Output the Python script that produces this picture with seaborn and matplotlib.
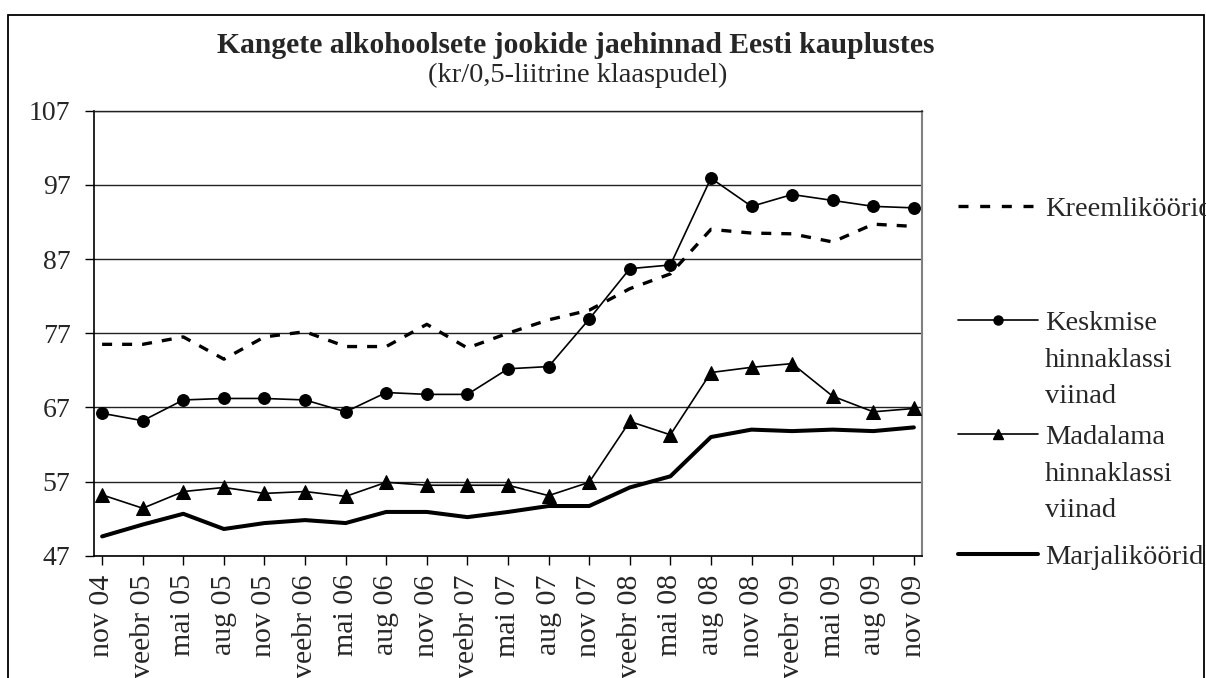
import matplotlib
matplotlib.use("Agg")
import matplotlib.pyplot as plt
from matplotlib.patches import Rectangle
from matplotlib.lines import Line2D
import seaborn as sns
import numpy as np

categories = ["nov 04", "veebr 05", "mai 05", "aug 05", "nov 05", "veebr 06", "mai 06",
              "aug 06", "nov 06", "veebr 07", "mai 07", "aug 07", "nov 07", "veebr 08",
              "mai 08", "aug 08", "nov 08", "veebr 09", "mai 09", "aug 09", "nov 09"]

kreem = [75.5, 75.5, 76.5, 73.5, 76.5, 77.2, 75.2, 75.2, 78.2, 75.0, 77.0,
         78.8, 80.1, 83.0, 85.0, 91.0, 90.5, 90.4, 89.3, 91.7, 91.4]
keskmise = [66.2, 65.2, 68.0, 68.2, 68.2, 68.0, 66.4, 69.0, 68.75, 68.75, 72.2,
            72.5, 78.9, 85.7, 86.2, 97.9, 94.1, 95.7, 94.9, 94.1, 93.9]
madalama = [55.2, 53.4, 55.65, 56.2, 55.4, 55.65, 55.0, 56.9, 56.5, 56.5, 56.5,
            55.1, 56.9, 65.1, 63.3, 71.7, 72.4, 72.9, 68.5, 66.4, 66.85]
marja = [49.6, 51.2, 52.65, 50.6, 51.4, 51.8, 51.4, 52.9, 52.9, 52.2, 52.9,
         53.7, 53.7, 56.2, 57.7, 63.0, 64.0, 63.8, 64.0, 63.8, 64.3]

yticks = [47, 57, 67, 77, 87, 97, 107]

title = "Kangete alkohoolsete jookide jaehinnad Eesti kauplustes"
subtitle = "(kr/0,5-liitrine klaaspudel)"
leg_kreem = ["Kreemliköörid"]
leg_kesk = ["Keskmise", "hinnaklassi", "viinad"]
leg_mad = ["Madalama", "hinnaklassi", "viinad"]
leg_marja = ["Marjaliköörid"]

sns.set_style("white")
plt.rcParams["font.family"] = ["Liberation Serif", "DejaVu Serif"]

W, H = 1206, 678
fig = plt.figure(figsize=(W / 100, H / 100), dpi=100)

def fx(px):
    return px / W

def fy(py):
    return 1 - py / H

ax_left, ax_right, ax_top, ax_bot = 94, 922, 110.7, 555.7
ax = fig.add_axes([fx(ax_left), fy(ax_bot), fx(ax_right - ax_left), (ax_bot - ax_top) / H])

x = np.arange(len(categories))

sns.lineplot(x=x, y=kreem, ax=ax, color="black", lw=2.4, linestyle=(0, (3, 3)),
             zorder=3)
sns.lineplot(x=x, y=keskmise, ax=ax, color="black", lw=1.2, marker="o",
             markersize=8.5, markeredgecolor="black", zorder=4)
sns.lineplot(x=x, y=madalama, ax=ax, color="black", lw=1.2, marker="^",
             markersize=9.5, markeredgecolor="black", zorder=4)
sns.lineplot(x=x, y=marja, ax=ax, color="black", lw=2.9, zorder=3)

ax.set_xlim(-0.2, len(categories) - 1 + 0.2)
ax.set_ylim(47, 107)
ax.set_yticks(yticks)
ax.set_yticklabels([str(v) for v in yticks], fontsize=20)
ax.set_xticks(x)
ax.set_xticklabels(categories, rotation=90, fontsize=21.5, va="top", ha="center")
ax.tick_params(axis="y", direction="out", length=6.5, width=1, color="black", pad=10.5, left=True)
ax.tick_params(axis="x", direction="out", length=6.5, width=1, color="black", pad=7, bottom=True)

ax.yaxis.grid(True, color="#222222", lw=1)
ax.xaxis.grid(False)
ax.set_axisbelow(True)
for side in ["left", "bottom"]:
    ax.spines[side].set_color("black")
    ax.spines[side].set_linewidth(1.2)
ax.spines["top"].set_color("#222222")
ax.spines["top"].set_linewidth(1)
ax.spines["right"].set_color("#808080")
ax.spines["right"].set_linewidth(1.5)
ax.set_xlabel("")
ax.set_ylabel("")

# outer chart-area border
fig.patches.append(Rectangle((fx(8), -0.1), fx(1204 - 8), fy(15.5) + 0.1,
                             transform=fig.transFigure, fill=False,
                             edgecolor="black", lw=1.3))

fig.text(fx(576), fy(53), title, fontsize=21.3, fontweight="bold",
         ha="center", va="baseline")
fig.text(fx(578), fy(82), subtitle, fontsize=20.5, ha="center", va="baseline")

# legends
fs = 20.5
def blank():
    return Line2D([], [], color="none")

h_kreem = Line2D([], [], color="black", lw=2.4, linestyle=(0, (3, 3.5)))
h_kesk = Line2D([], [], color="black", lw=1.2, marker="o", markersize=6.5)
h_mad = Line2D([], [], color="black", lw=1.2, marker="^", markersize=7.5)
h_marja = Line2D([], [], color="black", lw=2.9)

def add_leg(handles, labels, ytop):
    leg = fig.legend(handles, labels, loc="upper left",
                     bbox_to_anchor=(fx(958), fy(ytop)), frameon=False,
                     fontsize=fs, handlelength=2.8, handletextpad=0.25,
                     borderpad=0, borderaxespad=0, labelspacing=0.38)
    return leg

add_leg([h_kreem], leg_kreem, 196)
add_leg([h_kesk, blank(), blank()], leg_kesk, 310)
add_leg([h_mad, blank(), blank()], leg_mad, 424)
add_leg([h_marja], leg_marja, 544)

fig.savefig("out.png", dpi=100)
